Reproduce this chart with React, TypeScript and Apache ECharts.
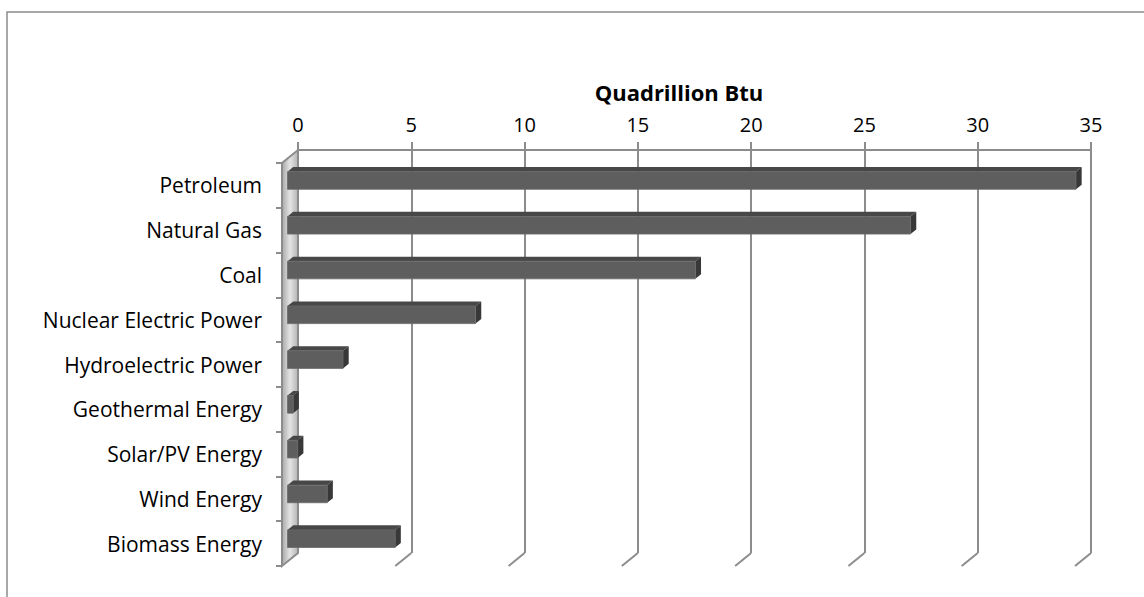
import React, { useEffect, useRef } from "react";
import * as echarts from "echarts";

const categories = [
  "Petroleum",
  "Natural Gas",
  "Coal",
  "Nuclear Electric Power",
  "Hydroelectric Power",
  "Geothermal Energy",
  "Solar/PV Energy",
  "Wind Energy",
  "Biomass Energy",
];
const values = [34.8, 27.5, 18.0, 8.3, 2.45, 0.25, 0.45, 1.75, 4.75];
const tickValues = [0, 5, 10, 15, 20, 25, 30, 35];
const axisTitle = "Quadrillion Btu";

const FONT = "Open Sans";
const GRAY = "#8c8c8c";
// oblique depth of the floor/wall
const DEPTH_X = -16;
const DEPTH_Y = 13;

export default function App() {
  const ref = useRef<HTMLDivElement>(null);
  useEffect(() => {
    if (!ref.current) return;
    const chart = echarts.init(ref.current, undefined, { renderer: "svg" });
    const option: any = {
      animation: false,
      backgroundColor: "#ffffff",
      textStyle: { fontFamily: FONT },
      title: {
        text: axisTitle,
        left: 674,
        top: 76,
        textAlign: "center",
        textStyle: { fontFamily: FONT, fontWeight: "bold", fontSize: 22, color: "#000" },
      },
      graphic: [
        {
          type: "rect",
          shape: { x: 7, y: 12, width: 1200, height: 700 },
          style: { fill: "none", stroke: GRAY, lineWidth: 1.5 },
          silent: true,
          z: -10,
        },
      ],
      grid: [
        { left: 298, top: 150, width: 793, height: 403 },
        { left: 282, top: 163, width: 793, height: 403 },
      ],
      xAxis: [
        {
          gridIndex: 0,
          type: "value",
          position: "top",
          min: 0,
          max: 35,
          interval: 5,
          axisLine: { show: true, lineStyle: { color: GRAY, width: 2 } },
          axisTick: { show: true, length: 8, lineStyle: { color: GRAY, width: 2 } },
          axisLabel: { fontFamily: FONT, fontSize: 20, color: "#000", margin: 16 },
          splitLine: { show: true, lineStyle: { color: GRAY, width: 2 } },
        },
        {
          gridIndex: 1,
          type: "value",
          min: 0,
          max: 35,
          show: false,
        },
      ],
      yAxis: [
        {
          gridIndex: 0,
          type: "category",
          inverse: true,
          data: categories,
          show: false,
        },
        {
          gridIndex: 1,
          type: "category",
          inverse: true,
          data: categories,
          axisLine: { show: false },
          axisTick: { show: true, length: 6, lineStyle: { color: GRAY, width: 2 } },
          axisLabel: { fontFamily: FONT, fontSize: 21, color: "#000", margin: 20 },
          splitLine: { show: false },
        },
      ],
      series: [
        {
          type: "custom",
          name: "floor",
          xAxisIndex: 0,
          yAxisIndex: 0,
          silent: true,
          z: 1,
          data: tickValues.map((t) => [t]),
          encode: { x: 0 },
          renderItem: (params: any, api: any) => {
            const t = api.value(0);
            const cs = params.coordSys;
            const top = cs.y;
            const bottom = cs.y + cs.height;
            const px = api.coord([t, 0])[0];
            const children: any[] = [];
            if (t === 0) {
              children.push({
                type: "polygon",
                shape: {
                  points: [
                    [px, top],
                    [px, bottom],
                    [px + DEPTH_X, bottom + DEPTH_Y],
                    [px + DEPTH_X, top + DEPTH_Y],
                  ],
                },
                style: {
                  fill: new echarts.graphic.LinearGradient(0, 0, 1, 0, [
                    { offset: 0, color: "#a8a8a8" },
                    { offset: 0.5, color: "#e4e4e4" },
                    { offset: 1, color: "#b4b4b4" },
                  ]),
                  stroke: GRAY,
                  lineWidth: 2,
                },
              });
            } else {
              children.push({
                type: "line",
                shape: { x1: px, y1: bottom, x2: px + DEPTH_X, y2: bottom + DEPTH_Y },
                style: { stroke: GRAY, lineWidth: 2 },
              });
            }
            return { type: "group", children };
          },
        },
        {
          type: "custom",
          name: "Quadrillion Btu",
          xAxisIndex: 0,
          yAxisIndex: 0,
          z: 5,
          data: values.map((v, i) => [v, i]),
          encode: { x: 0, y: 1 },
          renderItem: (params: any, api: any) => {
            const v = api.value(0);
            const i = api.value(1);
            const p0 = api.coord([0, i]);
            const p1 = api.coord([v, i]);
            const dx = -10.5;
            const dy = 8.1;
            const h = 17.6;
            const ddx = 5.7;
            const ddy = -4.6;
            const xl = p0[0] + dx;
            const xr = p1[0] + dx;
            const yc = p0[1] + dy;
            const yt = yc - h / 2;
            const yb = yc + h / 2;
            return {
              type: "group",
              children: [
                {
                  type: "polygon",
                  shape: {
                    points: [
                      [xl, yt],
                      [xr, yt],
                      [xr + ddx, yt + ddy],
                      [xl + ddx, yt + ddy],
                    ],
                  },
                  style: { fill: "#474747" },
                },
                {
                  type: "polygon",
                  shape: {
                    points: [
                      [xr, yt],
                      [xr + ddx, yt + ddy],
                      [xr + ddx, yb + ddy],
                      [xr, yb],
                    ],
                  },
                  style: { fill: "#383838" },
                },
                {
                  type: "rect",
                  shape: { x: xl, y: yt, width: xr - xl, height: h },
                  style: { fill: "#5e5e5e", stroke: "#6a6a6a", lineWidth: 0.8 },
                },
              ],
            };
          },
        },
      ],
    };
    chart.setOption(option);
    return () => chart.dispose();
  }, []);
  return (
    <div
      ref={ref}
      style={{ position: "fixed", left: 0, top: 0, width: 1144, height: 597 }}
    />
  );
}
